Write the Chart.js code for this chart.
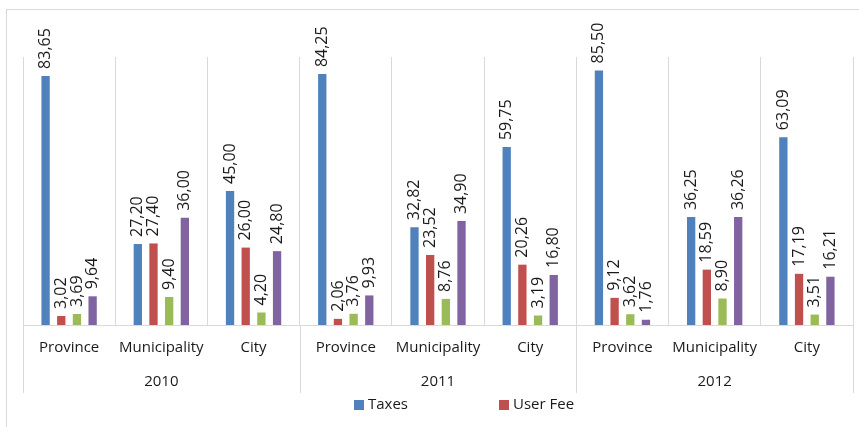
<!DOCTYPE html>
<html>
<head>
<meta charset="utf-8">
<script src="https://cdn.jsdelivr.net/npm/chart.js@4.4.1/dist/chart.umd.min.js"></script>
<style>
    body { margin: 0; overflow: hidden; background: #fff; }
    #frame { position: absolute; left: 6px; top: 9px; width: 900px; height: 500px; border: 1px solid #d9d9d9; }
    #wrap { position: absolute; left: 0; top: 0; width: 859px; height: 427px; }
</style>
</head>
<body>
<div id="frame"></div>
<div id="wrap"><canvas id="revenue-chart"></canvas></div>
<script>
const categories = ['Province', 'Municipality', 'City', 'Province', 'Municipality', 'City', 'Province', 'Municipality', 'City'];
const years = ['2010', '2011', '2012'];
const taxes = [83.65, 27.20, 45.00, 84.25, 32.82, 59.75, 85.50, 36.25, 63.09];
const userFee = [3.02, 27.40, 26.00, 2.06, 23.52, 20.26, 9.12, 18.59, 17.19];
const series3 = [3.69, 9.40, 4.20, 3.76, 8.76, 3.19, 3.62, 8.90, 3.51];
const series4 = [9.64, 36.00, 24.80, 9.93, 34.90, 16.80, 1.76, 36.26, 16.21];

const textColor = '#1a1a1a';
const lineColor = '#d9d9d9';

// value labels, rotated, above each bar
const valueLabels = {
    id: 'valueLabels',
    afterDatasetsDraw: function(chart) {
        const ctx = chart.ctx;
        ctx.save();
        ctx.font = '16px "Open Sans"';
        ctx.fillStyle = textColor;
        ctx.textAlign = 'left';
        ctx.textBaseline = 'middle';
        chart.data.datasets.forEach((dataset, i) => {
            const meta = chart.getDatasetMeta(i);
            meta.data.forEach((bar, j) => {
                const text = dataset.data[j].toFixed(2).replace('.', ',');
                ctx.save();
                ctx.translate(bar.x, bar.y - 7);
                ctx.rotate(-Math.PI / 2);
                ctx.fillText(text, 0, 0);
                ctx.restore();
            });
        });
        ctx.restore();
    }
};

// second level of the category axis (years) and group separators
const yearAxis = {
    id: 'yearAxis',
    afterDraw: function(chart) {
        const ctx = chart.ctx;
        const x = chart.scales.x;
        const area = chart.chartArea;
        const half = (x.getPixelForValue(1) - x.getPixelForValue(0)) / 2;
        ctx.save();
        ctx.strokeStyle = lineColor;
        ctx.lineWidth = 1;
        for (let g = 0; g <= years.length; g++) {
            const px = Math.round(x.getPixelForValue(g * 3) - half) + 0.5;
            ctx.beginPath();
            ctx.moveTo(px, area.bottom);
            ctx.lineTo(px, area.bottom + 68);
            ctx.stroke();
        }
        ctx.font = '15px "Open Sans"';
        ctx.fillStyle = textColor;
        ctx.textAlign = 'center';
        ctx.textBaseline = 'middle';
        years.forEach((year, g) => {
            ctx.fillText(year, x.getPixelForValue(g * 3 + 1), area.bottom + 57);
        });

        // legend (only the first two series are shown)
        const cx = (area.left + area.right) / 2;
        const ly = area.bottom + 80;
        const items = [
            { text: 'Taxes', color: chart.data.datasets[0].backgroundColor, at: cx - 84 },
            { text: 'User Fee', color: chart.data.datasets[1].backgroundColor, at: cx + 61 },
        ];
        items.forEach((item) => {
            ctx.fillStyle = item.color;
            ctx.fillRect(item.at, ly - 5, 10, 10);
            ctx.fillStyle = textColor;
            ctx.textAlign = 'left';
            ctx.fillText(item.text, item.at + 14, ly);
        });
        ctx.restore();
    }
};

const revenueChart = new Chart(document.getElementById('revenue-chart'), {
    type: 'bar',
    data: {
        labels: categories,
        datasets: [
            { label: 'Taxes', data: taxes, backgroundColor: '#4f81bd' },
            { label: 'User Fee', data: userFee, backgroundColor: '#c0504d' },
            { label: 'Series 3', data: series3, backgroundColor: '#9bbb59' },
            { label: 'Series 4', data: series4, backgroundColor: '#8064a2' },
        ],
    },
    options: {
        responsive: true,
        maintainAspectRatio: false,
        animation: false,
        layout: {
            padding: { left: 23, right: 6, top: 57, bottom: 56 },
        },
        datasets: {
            bar: {
                categoryPercentage: 0.68,
                barPercentage: 0.53,
            },
        },
        scales: {
            x: {
                grid: {
                    color: lineColor,
                    offset: true,
                    drawTicks: false,
                },
                border: { color: lineColor },
                ticks: {
                    color: textColor,
                    font: { family: 'Open Sans', size: 15 },
                    padding: 14,
                    maxRotation: 0,
                    autoSkip: false,
                },
            },
            y: {
                display: false,
                min: 0,
                max: 90,
            },
        },
        plugins: {
            legend: { display: false },
            tooltip: { enabled: false },
        },
    },
    plugins: [valueLabels, yearAxis],
});
</script>
</body>
</html>
